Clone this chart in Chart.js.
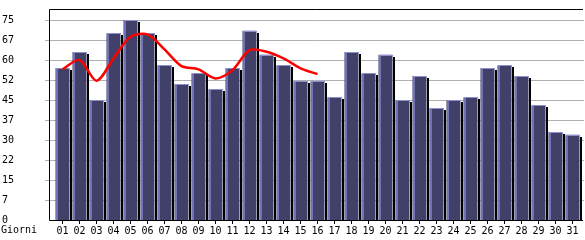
<!DOCTYPE html>
<html>
<head>
<meta charset="utf-8">
<script src="https://cdn.jsdelivr.net/npm/chart.js@4/dist/chart.umd.min.js"></script>
<style>
  html, body { margin: 0; padding: 0; background: #fff; }
  canvas { display: block; }
</style>
</head>
<body>
<canvas id="grafico" width="585" height="240"></canvas>
<script>
const giorni = ['01','02','03','04','05','06','07','08','09','10','11','12','13','14','15','16',
                '17','18','19','20','21','22','23','24','25','26','27','28','29','30','31'];
const visite = [57, 63, 45, 70, 75, 70, 58, 51, 55, 49, 57, 71, 62, 58, 52, 52,
                46, 63, 55, 62, 45, 54, 42, 45, 46, 57, 58, 54, 43, 33, 32];
// media mobile (linea rossa), solo i primi 16 giorni
const media = [56.5, 60, 52.2, 60.6, 68.7, 69.6, 64, 57.7, 56.5, 53.1, 56.2, 63.7, 63.1, 60.6, 56.9, 54.7,
               null, null, null, null, null, null, null, null, null, null, null, null, null, null, null];
const yTicks = [0, 7.5, 15, 22.5, 30, 37.5, 45, 52.5, 60, 67.5, 75];
const yEtichette = ['0', '7', '15', '22', '30', '37', '45', '52', '60', '67', '75'];

const FONT = { family: 'DejaVu Sans Mono', size: 10 };
const ASSE_X = 49.5;

// griglia, ombra nera + bordi chiari delle barre, cornice
const barre3d = {
  id: 'barre3d',
  beforeDatasetsDraw(chart) {
    const ctx = chart.ctx;
    const y = chart.scales.y;
    ctx.save();
    ctx.strokeStyle = '#b0b0b0';
    ctx.lineWidth = 1;
    ctx.beginPath();
    yTicks.forEach(v => {
      if (v === 0) return;
      const py = Math.round(y.getPixelForValue(v)) + 0.5;
      ctx.moveTo(45, py);
      ctx.lineTo(584, py);
    });
    ctx.stroke();
    ctx.restore();
  },
  beforeDatasetDraw(chart, args) {
    if (args.index !== 0) return;
    const ctx = chart.ctx;
    ctx.save();
    ctx.fillStyle = '#000';
    args.meta.data.forEach(bar => {
      const r = Math.round(bar.x + bar.width / 2);
      const top = Math.round(bar.y) + 2;
      ctx.fillRect(r, top, 2, Math.round(bar.base) - top);
    });
    ctx.restore();
  },
  afterDatasetDraw(chart, args) {
    if (args.index !== 0) return;
    const ctx = chart.ctx;
    ctx.save();
    args.meta.data.forEach(bar => {
      const l = Math.round(bar.x - bar.width / 2);
      const r = Math.round(bar.x + bar.width / 2);
      const top = Math.round(bar.y);
      ctx.fillStyle = '#7272b8';
      ctx.fillRect(l, top, 2, Math.round(bar.base) - top);
      ctx.fillStyle = '#8e8ed0';
      ctx.fillRect(l, top, r - l, 1);
    });
    ctx.restore();
  },
  afterDraw(chart) {
    const ctx = chart.ctx;
    const a = chart.chartArea;
    ctx.save();
    ctx.strokeStyle = '#000';
    ctx.lineWidth = 1;
    ctx.beginPath();
    ctx.moveTo(ASSE_X, Math.round(a.bottom) + 0.5);
    ctx.lineTo(ASSE_X, Math.round(a.top) - 0.5);
    ctx.lineTo(583, Math.round(a.top) - 0.5);
    ctx.moveTo(ASSE_X, Math.round(a.bottom) + 0.5);
    ctx.lineTo(583, Math.round(a.bottom) + 0.5);
    ctx.stroke();
    ctx.fillStyle = '#000';
    ctx.font = '10px "DejaVu Sans Mono"';
    ctx.textBaseline = 'middle';
    ctx.textAlign = 'left';
    ctx.fillText('Giorni', 1, 230);
    ctx.restore();
  }
};

new Chart(document.getElementById('grafico'), {
  type: 'bar',
  data: {
    labels: giorni,
    datasets: [
      {
        label: 'Visite',
        data: visite,
        backgroundColor: '#404068',
        borderWidth: 0,
        barPercentage: 1,
        categoryPercentage: 14 / 17,
        order: 1
      },
      {
        type: 'line',
        label: 'Media',
        data: media,
        borderColor: '#ff0000',
        borderWidth: 2.5,
        pointRadius: 0,
        tension: 0.3,
        fill: false,
        spanGaps: false,
        order: 0
      }
    ]
  },
  options: {
    responsive: false,
    animation: false,
    layout: { padding: { top: 10, right: 4, left: 2, bottom: 0 } },
    plugins: { legend: { display: false }, tooltip: { enabled: false } },
    scales: {
      x: {
        grid: { display: true, drawOnChartArea: false, drawTicks: true, tickLength: 4, color: '#000', offset: false },
        border: { display: false },
        ticks: { color: '#000', font: FONT, padding: 1, maxRotation: 0, autoSkip: false },
        afterFit(scale) { scale.height = 20; }
      },
      y: {
        min: 0,
        max: 78.75,
        grid: { display: false },
        border: { display: false },
        afterBuildTicks(scale) { scale.ticks = yTicks.map(v => ({ value: v })); },
        ticks: {
          color: '#000',
          font: FONT,
          crossAlign: 'far',
          padding: 0,
          callback: (v, i) => yEtichette[i]
        },
        afterFit(scale) { scale.width = 52; }
      }
    }
  },
  plugins: [barre3d]
});
</script>
</body>
</html>
